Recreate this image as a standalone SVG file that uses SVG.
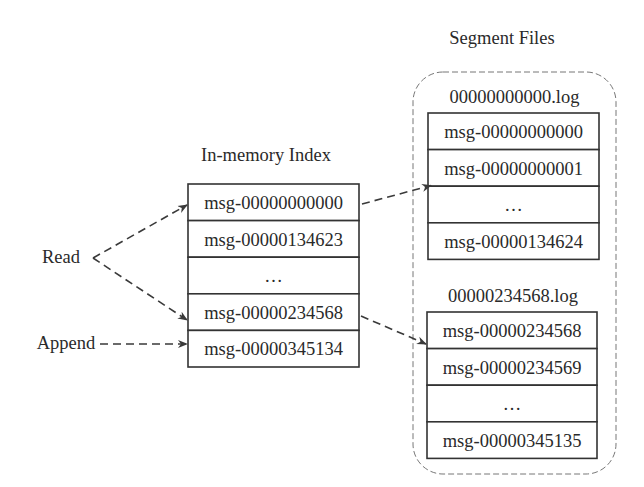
<svg xmlns="http://www.w3.org/2000/svg" width="644" height="487" viewBox="0 0 644 487">
<defs>
<marker id="ah" viewBox="0 0 10 10" refX="9" refY="5" markerWidth="10" markerHeight="10" markerUnits="userSpaceOnUse" orient="auto">
<path d="M0,1 L10,5 L0,9 L3,5 Z" fill="#3a3a3a"/>
</marker>
<style>
text{font-family:"Liberation Serif","Times New Roman",serif;fill:#2a2a2a;font-size:18.5px;text-anchor:middle}
.cell{fill:#fff;stroke:#333;stroke-width:1.6}
.dash{fill:none;stroke:#3a3a3a;stroke-width:1.6;stroke-dasharray:8 5}
.cont{fill:none;stroke:#777;stroke-width:1;stroke-dasharray:6 3}
</style>
</defs>
<rect width="644" height="487" fill="#fff"/>
<g id="container">
<rect class="cont" x="413" y="72" width="203" height="402" rx="30" ry="30"/>
<text x="502" y="44">Segment Files</text>
</g>
<g id="index">
<text x="266" y="161">In-memory Index</text>
<rect class="cell" x="188" y="184" width="171" height="36.6"/>
<rect class="cell" x="188" y="220.6" width="171" height="36.6"/>
<rect class="cell" x="188" y="257.2" width="171" height="36.6"/>
<rect class="cell" x="188" y="293.8" width="171" height="36.6"/>
<rect class="cell" x="188" y="330.4" width="171" height="36.6"/>
<text x="273.5" y="209">msg-00000000000</text>
<text x="273.5" y="245.5">msg-00000134623</text>
<text x="273.5" y="282">…</text>
<text x="273.5" y="318.5">msg-00000234568</text>
<text x="273.5" y="355">msg-00000345134</text>
</g>
<g id="seg1">
<text x="514.5" y="103">00000000000.log</text>
<rect class="cell" x="428" y="113" width="171" height="36.6"/>
<rect class="cell" x="428" y="149.6" width="171" height="36.6"/>
<rect class="cell" x="428" y="186.2" width="171" height="36.6"/>
<rect class="cell" x="428" y="222.8" width="171" height="36.6"/>
<text x="513.5" y="138">msg-00000000000</text>
<text x="513.5" y="174.5">msg-00000000001</text>
<text x="513.5" y="211">…</text>
<text x="513.5" y="247.5">msg-00000134624</text>
</g>
<g id="seg2">
<text x="513" y="302">00000234568.log</text>
<rect class="cell" x="427" y="312" width="170" height="36.6"/>
<rect class="cell" x="427" y="348.6" width="170" height="36.6"/>
<rect class="cell" x="427" y="385.2" width="170" height="36.6"/>
<rect class="cell" x="427" y="421.8" width="170" height="36.6"/>
<text x="512" y="337">msg-00000234568</text>
<text x="512" y="373.5">msg-00000234569</text>
<text x="512" y="410">…</text>
<text x="512" y="446.5">msg-00000345135</text>
</g>
<g id="read"><text x="61" y="263">Read</text></g>
<g id="append"><text x="66" y="348.5">Append</text></g>
<g id="connectors">
<path class="dash" d="M93,258 L187,205" marker-end="url(#ah)"/>
<path class="dash" d="M93,258 L187,320" marker-end="url(#ah)"/>
<path class="dash" d="M100,344 L187,344" marker-end="url(#ah)"/>
<path class="dash" d="M362,204 L431,185.5" marker-end="url(#ah)"/>
<path class="dash" d="M361,316 L426,344" marker-end="url(#ah)"/>
</g>
</svg>
